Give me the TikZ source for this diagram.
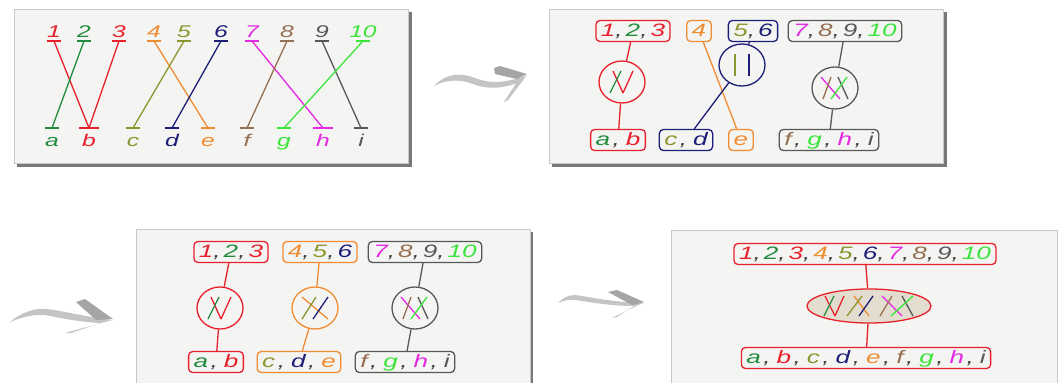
\documentclass[tikz,border=0pt]{standalone}
\usepackage{fontspec}
\newfontfamily\labf{Liberation Sans}[FakeStretch=1.45]
\usetikzlibrary{shapes.geometric}
\definecolor{cred}{RGB}{232,32,44}
\definecolor{cdg}{RGB}{34,140,62}
\definecolor{col}{RGB}{140,150,48}
\definecolor{cor}{RGB}{240,140,50}
\definecolor{cnv}{RGB}{28,30,120}
\definecolor{cmg}{RGB}{228,40,228}
\definecolor{cbr}{RGB}{150,112,82}
\definecolor{cgy}{RGB}{88,88,88}
\definecolor{cgr}{RGB}{60,228,60}
\definecolor{pbg}{RGB}{244,244,242}
\definecolor{pbd}{RGB}{200,200,200}
\definecolor{psh}{RGB}{120,120,120}
\definecolor{efill}{RGB}{226,221,206}
\definecolor{arA}{RGB}{196,196,196}
\definecolor{arB}{RGB}{165,165,165}
\newcommand\tc[2]{\textcolor{#1}{#2}}
\newcommand\cm{{\color{black!75},}\kern3pt}
\newcommand\cml{\kern2.5pt{\color{black!75},}\kern6pt}
\newcommand\ml[5]{\draw[#2] ([shift={(#3,-#5)}]#1.center) -- ([shift={(#4,#5)}]#1.center);}
\begin{document}
\begin{tikzpicture}[x=1pt,y=-1pt,line width=1.3pt,
  lab/.style={font=\labf\itshape\fontsize{17}{20}\selectfont, inner sep=0pt, anchor=base},
  bx/.style={draw, rounded corners=4pt, fill=pbg, inner xsep=5pt, inner ysep=2.5pt,
     text height=13pt, text depth=3pt, font=\labf\itshape\fontsize{18}{20}\selectfont},
  circ/.style={ellipse, draw, fill=pbg, minimum width=46pt, minimum height=42pt, inner sep=0pt},
  panel/.style={fill=pbg, draw=pbd, line width=0.6pt},
  shadow/.style={fill=psh, draw=none},
  arrA/.style={fill=arA, draw=none},
  arrB/.style={fill=arB, draw=none}]
\useasboundingbox (0,0) rectangle (1058,383);
\clip (0,0) rectangle (1058,383);
\fill[white] (0,0) rectangle (1058,383);
% panels
\fill[shadow] (17,12) rectangle (412,167);
\path[panel] (14,9) rectangle (408,163);
\fill[shadow] (552,12) rectangle (947,167);
\path[panel] (549,9) rectangle (943,163);
\fill[shadow] (139,232) rectangle (533,390);
\path[panel] (136,229) rectangle (530,390);
\path[panel] (671,230) rectangle (1057,390);
% arrows
\path[arrA] (434,86) .. controls (445,74) and (460,72) .. (475,78) .. controls (490,84) and (505,83) .. (525,76) -- (520,82) .. controls (500,90) and (485,89) .. (470,83) .. controls (458,79) and (445,80) .. (434,86) -- cycle;
\path[arrB] (494,68) -- (500,66) -- (527,74) -- (517,79) -- (495,74) -- cycle;
\path[arrA] (527,75) -- (508,100) -- (504,102) -- (517,82) -- cycle;
\path[arrA] (10,322) .. controls (22,312) and (35,308) .. (45,309) .. controls (60,310) and (80,316) .. (112,320) -- (100,323) .. controls (80,322) and (60,318) .. (45,315) .. controls (35,314) and (22,317) .. (10,322) -- cycle;
\path[arrB] (76,302) -- (85,299) -- (113,319) -- (96,320) -- cycle;
\path[arrA] (112,320) -- (65,333) -- (71,333) -- (100,323) -- cycle;
\path[arrA] (558,303) .. controls (563,298) and (568,295) .. (575,295) .. controls (590,297) and (610,302) .. (644,303) -- (634,306) .. controls (610,306) and (590,302) .. (575,300) .. controls (568,299) and (563,301) .. (558,303) -- cycle;
\path[arrB] (608,292) -- (617,290) -- (644,302) -- (632,305) -- cycle;
\path[arrA] (644,302) -- (612,318) -- (617,317) -- (634,306) -- cycle;
% ---------- panel 1
\foreach \n/\x/\c in {1/54/cred,2/84/cdg,3/119/cred,4/154/cor,5/184/col,6/221/cnv,7/252/cmg,8/287/cbr,9/322/cgy,10/363/cgr}{
  \node[lab,text=\c] (n\n) at (\x,37) {\n};
  \coordinate (t\n) at (\x,41);
  \draw[\c] ([xshift=-7pt]t\n) -- ([xshift=7pt]t\n);
}
\foreach \n/\x/\c/\w in {a/52/cdg/7,b/89/cred/10,c/133/col/7,d/172/cnv/7,e/208/cor/7,f/247/cbr/7,g/284/cgr/7,h/323/cmg/10,i/361/cgy/7}{
  \node[lab,text=\c] (l\n) at (\x,146) {\n};
  \coordinate (b\n) at (\x,128);
  \draw[\c] ([xshift=-\w pt]b\n) -- ([xshift=\w pt]b\n);
}
\foreach \s/\t/\c in {1/b/cred,2/a/cdg,3/b/cred,4/e/cor,5/c/col,6/d/cnv,7/h/cmg,8/f/cbr,9/i/cgy,10/g/cgr}{
  \draw[\c] (t\s) -- (b\t);
}
% ---------- panel 2
\node[bx,draw=cred] (p2t1) at (633,31) {\tc{cred}{1}\cm\tc{cdg}{2}\cm\tc{cred}{3}};
\node[bx,draw=cor] (p2t2) at (699,31) {\tc{cor}{4}};
\node[bx,draw=cnv] (p2t3) at (753,31) {\tc{col}{5}\cm\tc{cnv}{6}};
\node[bx,draw=cgy] (p2t4) at (845,31) {\tc{cmg}{7}\cm\tc{cbr}{8}\cm\tc{cgy}{9}\cm\tc{cgr}{10}};
\node[bx,draw=cred] (p2b1) at (618,140) {\tc{cdg}{a}\cml\tc{cred}{b}};
\node[bx,draw=cnv] (p2b2) at (686,140) {\tc{col}{c}\cml\tc{cnv}{d}};
\node[bx,draw=cor] (p2b3) at (741,140) {\tc{cor}{e}};
\node[bx,draw=cgy] (p2b4) at (829,140) {\tc{cbr}{f}\cml\tc{cgr}{g}\cml\tc{cmg}{h}\cml\tc{cgy}{i}};
\draw[cor] (p2t2) -- (p2b3);
\node[circ,draw=cred] (p2c1) at (622,82) {};
\node[circ,draw=cnv] (p2c2) at (742,65) {};
\node[circ,draw=cgy] (p2c3) at (835,88) {};
\draw[cred] (p2t1) -- (p2c1);
\draw[cred] (p2c1) -- (p2b1);
\draw[cnv] (p2t3) -- (p2c2);
\draw[cnv] (p2c2) -- (p2b2);
\draw[cgy] (p2t4) -- (p2c3);
\draw[cgy] (p2c3) -- (p2b4);
\ml{p2c1}{cred}{-9}{1}{11}
\ml{p2c1}{cdg}{-1}{-12}{11}
\ml{p2c1}{cred}{11}{1}{11}
\ml{p2c2}{col}{-7}{-7}{11}
\ml{p2c2}{cnv}{7}{7}{11}
\ml{p2c3}{cmg}{-14}{5}{11}
\ml{p2c3}{cbr}{-4}{-12}{11}
\ml{p2c3}{cgy}{3}{13}{11}
\ml{p2c3}{cgr}{12}{-4}{11}
% ---------- panel 3
\node[bx,draw=cred] (p3t1) at (231,252) {\tc{cred}{1}\cm\tc{cdg}{2}\cm\tc{cred}{3}};
\node[bx,draw=cor] (p3t2) at (320,252) {\tc{cor}{4}\cm\tc{col}{5}\cm\tc{cnv}{6}};
\node[bx,draw=cgy] (p3t3) at (425,252) {\tc{cmg}{7}\cm\tc{cbr}{8}\cm\tc{cgy}{9}\cm\tc{cgr}{10}};
\node[bx,draw=cred] (p3b1) at (216,362) {\tc{cdg}{a}\cml\tc{cred}{b}};
\node[bx,draw=cor] (p3b2) at (299,362) {\tc{col}{c}\cml\tc{cnv}{d}\cml\tc{cor}{e}};
\node[bx,draw=cgy] (p3b3) at (405,362) {\tc{cbr}{f}\cml\tc{cgr}{g}\cml\tc{cmg}{h}\cml\tc{cgy}{i}};
\node[circ,draw=cred] (p3c1) at (220,308) {};
\node[circ,draw=cor] (p3c2) at (315,308) {};
\node[circ,draw=cgy] (p3c3) at (415,308) {};
\draw[cred] (p3t1) -- (p3c1);
\draw[cred] (p3c1) -- (p3b1);
\draw[cor] (p3t2) -- (p3c2);
\draw[cor] (p3c2) -- (p3b2);
\draw[cgy] (p3t3) -- (p3c3);
\draw[cgy] (p3c3) -- (p3b3);
\ml{p3c1}{cred}{-9}{1}{11}
\ml{p3c1}{cdg}{-1}{-12}{11}
\ml{p3c1}{cred}{11}{1}{11}
\ml{p3c2}{cor}{-13}{13}{11}
\ml{p3c2}{col}{1}{-13}{11}
\ml{p3c2}{cnv}{13}{-2}{11}
\ml{p3c3}{cmg}{-14}{5}{11}
\ml{p3c3}{cbr}{-4}{-12}{11}
\ml{p3c3}{cgy}{3}{13}{11}
\ml{p3c3}{cgr}{12}{-4}{11}
% ---------- panel 4
\node[bx,draw=cred] (p4t) at (865,254) {\tc{cred}{1}\cm\tc{cdg}{2}\cm\tc{cred}{3}\cm\tc{cor}{4}\cm\tc{col}{5}\cm\tc{cnv}{6}\cm\tc{cmg}{7}\cm\tc{cbr}{8}\cm\tc{cgy}{9}\cm\tc{cgr}{10}};
\node[bx,draw=cred] (p4b) at (866,358) {\tc{cdg}{a}\cml\tc{cred}{b}\cml\tc{col}{c}\cml\tc{cnv}{d}\cml\tc{cor}{e}\cml\tc{cbr}{f}\cml\tc{cgr}{g}\cml\tc{cmg}{h}\cml\tc{cgy}{i}};
\node[ellipse,draw=cred,fill=efill,minimum width=124pt,minimum height=34pt,inner sep=0pt] (p4c) at (869,306) {};
\draw[cred] (p4t) -- (p4c);
\draw[cred] (p4c) -- (p4b);
\foreach \a/\b/\c in {-44/-34/cred,-35/-45/cdg,-25/-34/cred,-15/0/cor,-7/-22/col,4/-10/cnv,13/33/cmg,23/11/cbr,33/44/cgy,44/22/cgr}{
  \ml{p4c}{\c}{\a}{\b}{10}
}
\end{tikzpicture}
\end{document}
